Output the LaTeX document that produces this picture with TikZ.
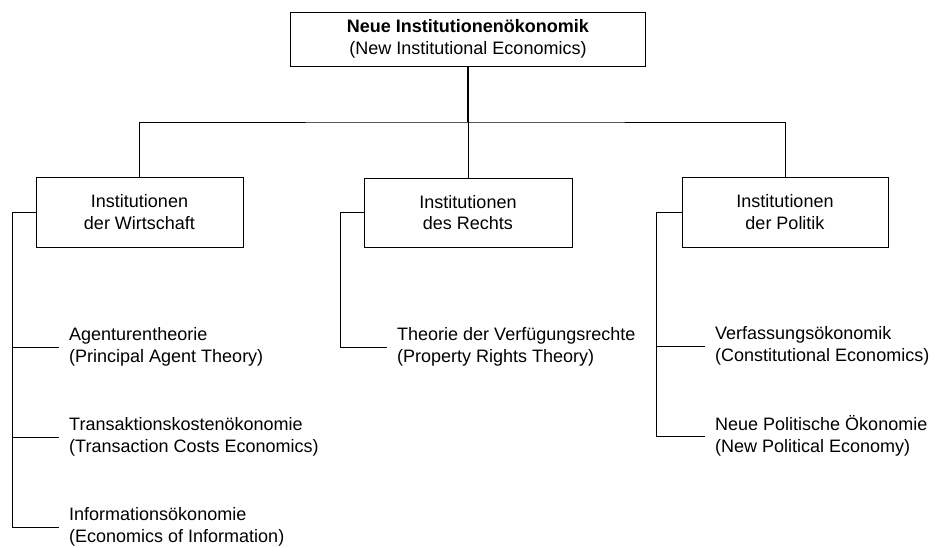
\documentclass[tikz,border=0pt]{standalone}
\usepackage{fontspec}
\setmainfont{Liberation Sans}
\begin{document}
\begin{tikzpicture}[x=1pt,y=-1pt,
  every node/.style={font=\fontsize{18}{21.5}\selectfont},
  box/.style={draw, line width=1pt, rectangle, align=center, inner sep=0pt},
  leaf/.style={anchor=west, align=left, inner xsep=10pt, inner ysep=0pt},
  link/.style={line width=1pt}]
\useasboundingbox (0,0) rectangle (935,547);

% root and the three branches
\node[box, minimum width=355pt, minimum height=54pt] (root) at (468,39)
  {\textbf{Neue Institutionenökonomik}\\(New Institutional Economics)};
\node[box, minimum width=207pt, minimum height=70pt] (wirt) at (139.5,212)
  {Institutionen\\der Wirtschaft};
\node[box, minimum width=208pt, minimum height=69pt] (recht) at (468,212.5)
  {Institutionen\\des Rechts};
\node[box, minimum width=206pt, minimum height=70pt] (pol) at (785,212)
  {Institutionen\\der Politik};

% theories under each branch
\node[leaf] (agent) at (59,347) {Agenturentheorie\\(Principal Agent Theory)};
\node[leaf] (trans) at (59,437) {Transaktionskostenökonomie\\(Transaction Costs Economics)};
\node[leaf] (info)  at (59,527) {Informationsökonomie\\(Economics of Information)};
\node[leaf] (prop)  at (387,347) {Theorie der Verfügungsrechte\\(Property Rights Theory)};
\node[leaf] (verf)  at (705,346) {Verfassungsökonomik\\(Constitutional Economics)};
\node[leaf] (npo)   at (705,436) {Neue Politische Ökonomie\\(New Political Economy)};

% tree connectors
\coordinate (bus) at (468,122);
\draw[link, line width=1.4pt] (root.south) -- (bus);
\draw[link] (wirt.north) |- (bus) -| (pol.north);
\draw[link] (bus) -- (recht.north);

\draw[link] (wirt.west) -- ++(-23,0) |- (agent.west);
\draw[link] (wirt.west) ++(-23,0) |- (trans.west);
\draw[link] (wirt.west) ++(-23,0) |- (info.west);

\draw[link] (recht.west) -- ++(-23,0) |- (prop.west);

\draw[link] (pol.west) -- ++(-25,0) |- (verf.west);
\draw[link] (pol.west) ++(-25,0) |- (npo.west);
\end{tikzpicture}
\end{document}
